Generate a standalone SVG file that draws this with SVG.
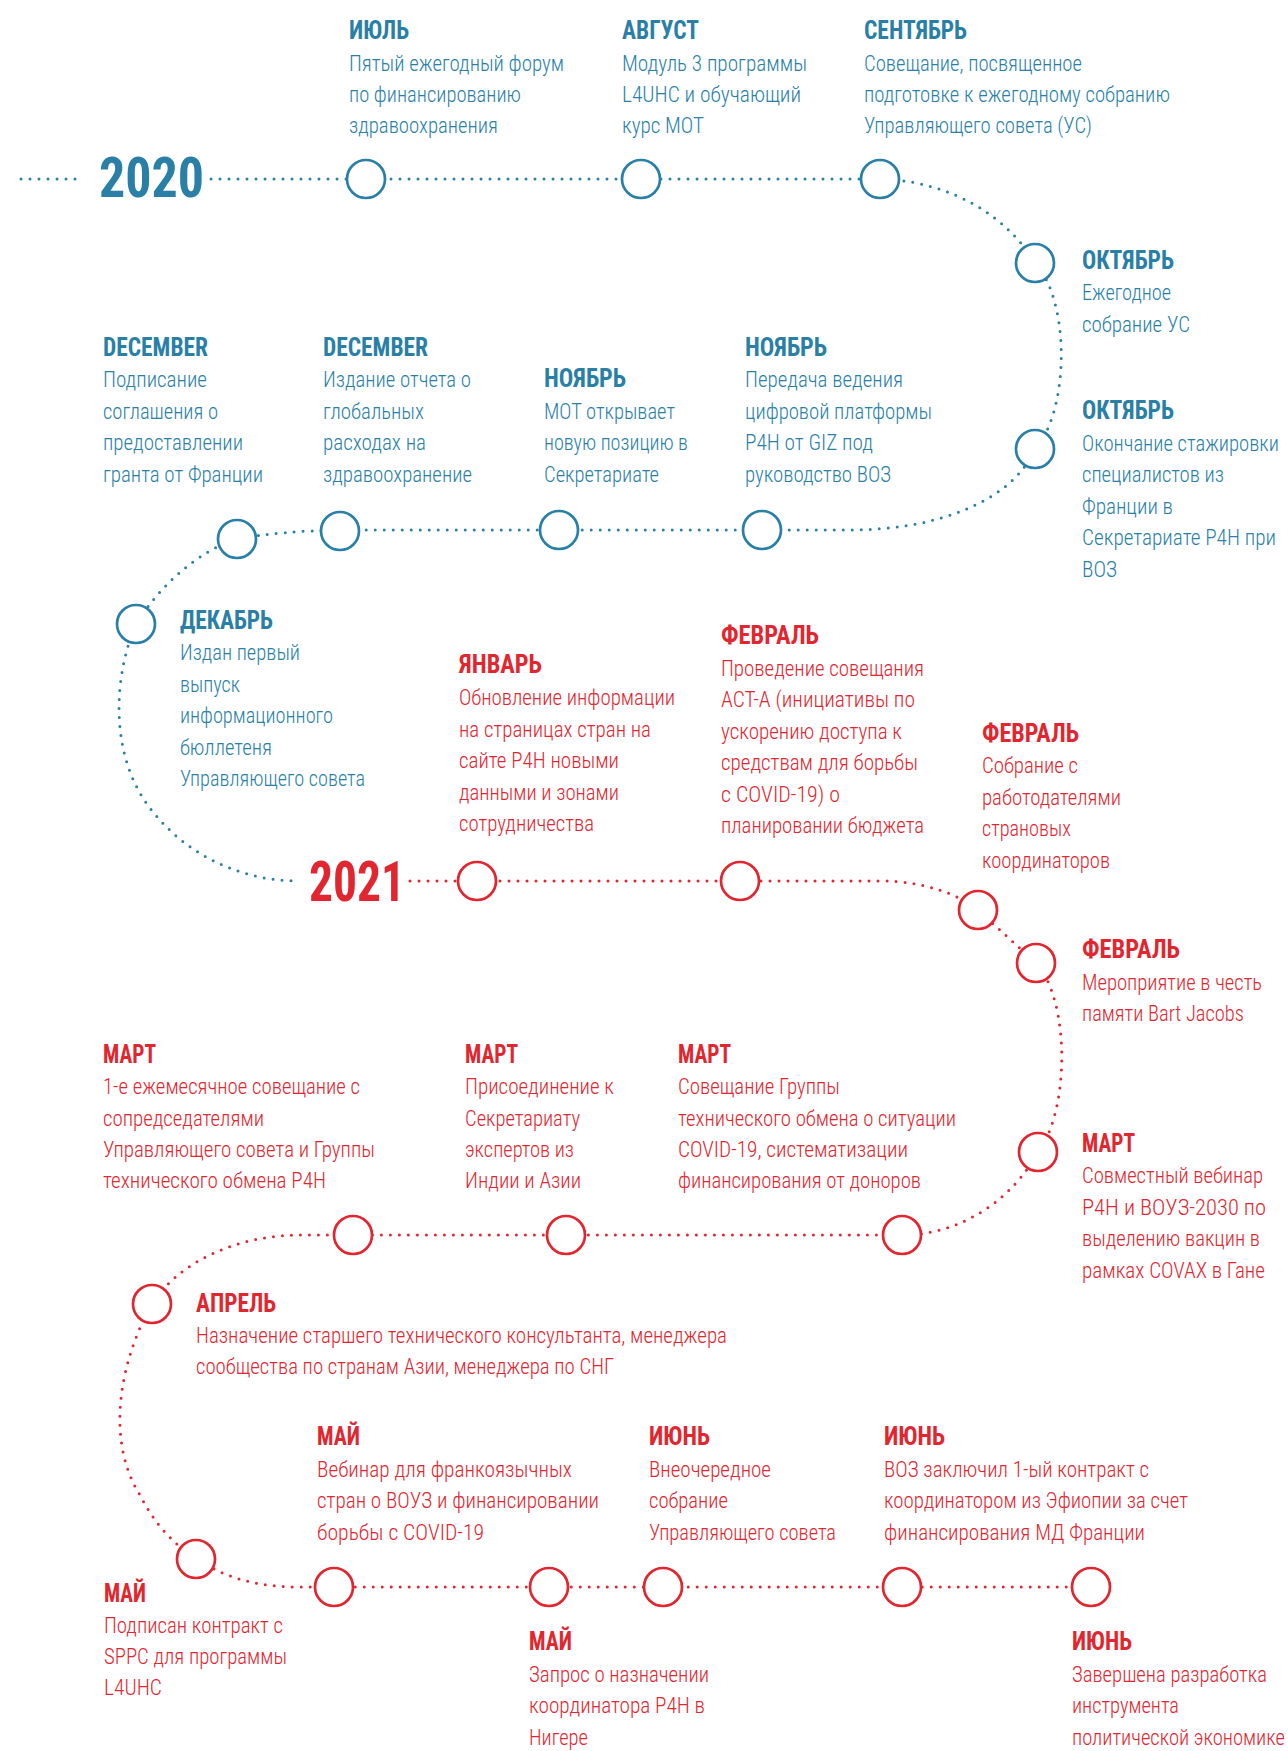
<svg xmlns="http://www.w3.org/2000/svg" width="1288" height="1751" viewBox="0 0 1288 1751">
<style>
.b{fill:#2a7fa6}
.r{fill:#e1262f}
.h{font-family:'Roboto Condensed','Liberation Sans Narrow',Roboto,'Liberation Sans',sans-serif;font-weight:700;font-size:26px}
.t{font-family:'Roboto Condensed','Liberation Sans Narrow',Roboto,'Liberation Sans',sans-serif;font-weight:300;font-size:22px}
.yr{font-family:'Roboto Condensed','Liberation Sans Narrow',Roboto,'Liberation Sans',sans-serif;font-weight:700;font-size:55px}
.lb{fill:none;stroke:#2a7fa6;stroke-width:3;stroke-linecap:round;stroke-dasharray:0 9}
.lr{fill:none;stroke:#e1262f;stroke-width:3;stroke-linecap:round;stroke-dasharray:0 9}
.cb{fill:#fff;stroke:#2a7fa6;stroke-width:2.7}
.cr{fill:#fff;stroke:#e1262f;stroke-width:2.7}
</style>
<rect width="1288" height="1751" fill="#fff"/>
<g id="connectors">
<path class="lb" d="M21,179 H84"/>
<path class="lb" d="M211,179 H880 C935,180 1000,205 1035,263 C1070,300 1070,410 1035,449 C1010,505 930,530 850,530 H340 Q280,531 237,539 C200,550 160,585 136,624 C112,680 110,760 153,812 C190,858 245,881 298,881"/>
<path class="lr" d="M410,881 H880 C925,881 960,895 978,910 L1036,963 C1070,1000 1070,1110 1038,1152 C1015,1195 965,1235 902,1235 H300 C240,1235 180,1260 152,1304 C120,1360 105,1440 140,1495 C155,1525 175,1545 196,1559 C230,1580 260,1587 300,1587 H1091"/>
</g>
<g id="year-2020"><text class="yr b" x="99" y="197" textLength="105" lengthAdjust="spacingAndGlyphs">2020</text></g>
<g id="year-2021"><text class="yr r" x="309" y="901" textLength="96" lengthAdjust="spacingAndGlyphs">2021</text></g>

<g id="n-jul">
<circle class="cb" cx="366" cy="179" r="19"/>
<text class="h b" x="349" y="39" textLength="60" lengthAdjust="spacingAndGlyphs">ИЮЛЬ</text>
<text class="t b" x="349" y="71" textLength="215" lengthAdjust="spacingAndGlyphs">Пятый ежегодный форум</text>
<text class="t b" x="349" y="102" textLength="172" lengthAdjust="spacingAndGlyphs">по финансированию</text>
<text class="t b" x="349" y="133" textLength="149" lengthAdjust="spacingAndGlyphs">здравоохранения</text>
</g>
<g id="n-aug">
<circle class="cb" cx="641" cy="179" r="19"/>
<text class="h b" x="622" y="39" textLength="77" lengthAdjust="spacingAndGlyphs">АВГУСТ</text>
<text class="t b" x="622" y="71" textLength="185" lengthAdjust="spacingAndGlyphs">Модуль 3 программы</text>
<text class="t b" x="622" y="102" textLength="179" lengthAdjust="spacingAndGlyphs">L4UHC и обучающий</text>
<text class="t b" x="622" y="133" textLength="82" lengthAdjust="spacingAndGlyphs">курс МОТ</text>
</g>
<g id="n-sep">
<circle class="cb" cx="880" cy="179" r="19"/>
<text class="h b" x="864" y="39" textLength="103" lengthAdjust="spacingAndGlyphs">СЕНТЯБРЬ</text>
<text class="t b" x="864" y="71" textLength="218" lengthAdjust="spacingAndGlyphs">Совещание, посвященное</text>
<text class="t b" x="864" y="102" textLength="306" lengthAdjust="spacingAndGlyphs">подготовке к ежегодному собранию</text>
<text class="t b" x="864" y="133" textLength="228" lengthAdjust="spacingAndGlyphs">Управляющего совета (УС)</text>
</g>
<g id="n-oct1">
<circle class="cb" cx="1035" cy="263" r="19"/>
<g transform="translate(1082,0) scale(0.8,1)">
<text class="h b" x="0" y="269" textLength="115" lengthAdjust="spacingAndGlyphs">ОКТЯБРЬ</text>
<text class="t b" x="0" y="300" textLength="111.25" lengthAdjust="spacingAndGlyphs">Ежегодное</text>
<text class="t b" x="0" y="332" textLength="135" lengthAdjust="spacingAndGlyphs">собрание УС</text>
</g>
</g>
<g id="n-oct2">
<circle class="cb" cx="1035" cy="449" r="19"/>
<g transform="translate(1082,0) scale(0.8,1)">
<text class="h b" x="0" y="419" textLength="115" lengthAdjust="spacingAndGlyphs">ОКТЯБРЬ</text>
<text class="t b" x="0" y="451" textLength="246.25" lengthAdjust="spacingAndGlyphs">Окончание стажировки</text>
<text class="t b" x="0" y="482" textLength="177.5" lengthAdjust="spacingAndGlyphs">специалистов из</text>
<text class="t b" x="0" y="514" textLength="113.75" lengthAdjust="spacingAndGlyphs">Франции в</text>
<text class="t b" x="0" y="545" textLength="242.5" lengthAdjust="spacingAndGlyphs">Секретариате P4H при</text>
<text class="t b" x="0" y="577" textLength="43.75" lengthAdjust="spacingAndGlyphs">ВОЗ</text>
</g>
</g>
<g id="n-nov2">
<circle class="cb" cx="762" cy="530" r="19"/>
<text class="h b" x="745" y="356" textLength="82" lengthAdjust="spacingAndGlyphs">НОЯБРЬ</text>
<text class="t b" x="745" y="387" textLength="158" lengthAdjust="spacingAndGlyphs">Передача ведения</text>
<text class="t b" x="745" y="419" textLength="187" lengthAdjust="spacingAndGlyphs">цифровой платформы</text>
<text class="t b" x="745" y="450" textLength="128" lengthAdjust="spacingAndGlyphs">P4H от GIZ под</text>
<text class="t b" x="745" y="482" textLength="146" lengthAdjust="spacingAndGlyphs">руководство ВОЗ</text>
</g>
<g id="n-nov1">
<circle class="cb" cx="559" cy="530" r="19"/>
<text class="h b" x="544" y="387" textLength="82" lengthAdjust="spacingAndGlyphs">НОЯБРЬ</text>
<text class="t b" x="544" y="419" textLength="131" lengthAdjust="spacingAndGlyphs">МОТ открывает</text>
<text class="t b" x="544" y="450" textLength="144" lengthAdjust="spacingAndGlyphs">новую позицию в</text>
<text class="t b" x="544" y="482" textLength="115" lengthAdjust="spacingAndGlyphs">Секретариате</text>
</g>
<g id="n-dec2">
<circle class="cb" cx="340" cy="531" r="19"/>
<text class="h b" x="323" y="356" textLength="105" lengthAdjust="spacingAndGlyphs">DECEMBER</text>
<text class="t b" x="323" y="387" textLength="148" lengthAdjust="spacingAndGlyphs">Издание отчета о</text>
<text class="t b" x="323" y="419" textLength="101" lengthAdjust="spacingAndGlyphs">глобальных</text>
<text class="t b" x="323" y="450" textLength="103" lengthAdjust="spacingAndGlyphs">расходах на</text>
<text class="t b" x="323" y="482" textLength="149" lengthAdjust="spacingAndGlyphs">здравоохранение</text>
</g>
<g id="n-dec1">
<circle class="cb" cx="237" cy="539" r="19"/>
<text class="h b" x="103" y="356" textLength="105" lengthAdjust="spacingAndGlyphs">DECEMBER</text>
<text class="t b" x="103" y="387" textLength="104" lengthAdjust="spacingAndGlyphs">Подписание</text>
<text class="t b" x="103" y="419" textLength="115" lengthAdjust="spacingAndGlyphs">соглашения о</text>
<text class="t b" x="103" y="450" textLength="140" lengthAdjust="spacingAndGlyphs">предоставлении</text>
<text class="t b" x="103" y="482" textLength="160" lengthAdjust="spacingAndGlyphs">гранта от Франции</text>
</g>
<g id="n-dec3">
<circle class="cb" cx="136" cy="624" r="19"/>
<text class="h b" x="180" y="629" textLength="93" lengthAdjust="spacingAndGlyphs">ДЕКАБРЬ</text>
<text class="t b" x="180" y="660" textLength="120" lengthAdjust="spacingAndGlyphs">Издан первый</text>
<text class="t b" x="180" y="692" textLength="60" lengthAdjust="spacingAndGlyphs">выпуск</text>
<text class="t b" x="180" y="723" textLength="153" lengthAdjust="spacingAndGlyphs">информационного</text>
<text class="t b" x="180" y="755" textLength="92" lengthAdjust="spacingAndGlyphs">бюллетеня</text>
<text class="t b" x="180" y="786" textLength="185" lengthAdjust="spacingAndGlyphs">Управляющего совета</text>
</g>

<g id="n-jan">
<circle class="cr" cx="477" cy="881" r="19"/>
<text class="h r" x="459" y="673" textLength="83" lengthAdjust="spacingAndGlyphs">ЯНВАРЬ</text>
<text class="t r" x="459" y="705" textLength="216" lengthAdjust="spacingAndGlyphs">Обновление информации</text>
<text class="t r" x="459" y="737" textLength="192" lengthAdjust="spacingAndGlyphs">на страницах стран на</text>
<text class="t r" x="459" y="768" textLength="160" lengthAdjust="spacingAndGlyphs">сайте P4H новыми</text>
<text class="t r" x="459" y="800" textLength="160" lengthAdjust="spacingAndGlyphs">данными и зонами</text>
<text class="t r" x="459" y="831" textLength="135" lengthAdjust="spacingAndGlyphs">сотрудничества</text>
</g>
<g id="n-feb1">
<circle class="cr" cx="740" cy="881" r="19"/>
<text class="h r" x="721" y="644" textLength="98" lengthAdjust="spacingAndGlyphs">ФЕВРАЛЬ</text>
<text class="t r" x="721" y="676" textLength="203" lengthAdjust="spacingAndGlyphs">Проведение совещания</text>
<text class="t r" x="721" y="707" textLength="194" lengthAdjust="spacingAndGlyphs">ACT-A (инициативы по</text>
<text class="t r" x="721" y="739" textLength="181" lengthAdjust="spacingAndGlyphs">ускорению доступа к</text>
<text class="t r" x="721" y="770" textLength="197" lengthAdjust="spacingAndGlyphs">средствам для борьбы</text>
<text class="t r" x="721" y="802" textLength="119" lengthAdjust="spacingAndGlyphs">с COVID-19) о</text>
<text class="t r" x="721" y="833" textLength="203" lengthAdjust="spacingAndGlyphs">планировании бюджета</text>
</g>
<g id="n-feb2">
<circle class="cr" cx="978" cy="910" r="19"/>
<text class="h r" x="982" y="742" textLength="97" lengthAdjust="spacingAndGlyphs">ФЕВРАЛЬ</text>
<text class="t r" x="982" y="773" textLength="96" lengthAdjust="spacingAndGlyphs">Собрание с</text>
<text class="t r" x="982" y="805" textLength="139" lengthAdjust="spacingAndGlyphs">работодателями</text>
<text class="t r" x="982" y="836" textLength="89" lengthAdjust="spacingAndGlyphs">страновых</text>
<text class="t r" x="982" y="868" textLength="128" lengthAdjust="spacingAndGlyphs">координаторов</text>
</g>
<g id="n-feb3">
<circle class="cr" cx="1036" cy="963" r="19"/>
<g transform="translate(1082,0) scale(0.8,1)">
<text class="h r" x="0" y="958" textLength="122.5" lengthAdjust="spacingAndGlyphs">ФЕВРАЛЬ</text>
<text class="t r" x="0" y="990" textLength="225" lengthAdjust="spacingAndGlyphs">Мероприятие в честь</text>
<text class="t r" x="0" y="1021" textLength="202.5" lengthAdjust="spacingAndGlyphs">памяти Bart Jacobs</text>
</g>
</g>
<g id="n-mar4">
<circle class="cr" cx="1038" cy="1152" r="19"/>
<g transform="translate(1082,0) scale(0.8,1)">
<text class="h r" x="0" y="1152" textLength="66.25" lengthAdjust="spacingAndGlyphs">МАРТ</text>
<text class="t r" x="0" y="1183" textLength="226.25" lengthAdjust="spacingAndGlyphs">Совместный вебинар</text>
<text class="t r" x="0" y="1215" textLength="230" lengthAdjust="spacingAndGlyphs">P4H и ВОУЗ-2030 по</text>
<text class="t r" x="0" y="1246" textLength="222.5" lengthAdjust="spacingAndGlyphs">выделению вакцин в</text>
<text class="t r" x="0" y="1278" textLength="228.75" lengthAdjust="spacingAndGlyphs">рамках COVAX в Гане</text>
</g>
</g>
<g id="n-mar3">
<circle class="cr" cx="902" cy="1235" r="19"/>
<text class="h r" x="678" y="1063" textLength="53" lengthAdjust="spacingAndGlyphs">МАРТ</text>
<text class="t r" x="678" y="1094" textLength="162" lengthAdjust="spacingAndGlyphs">Совещание Группы</text>
<text class="t r" x="678" y="1126" textLength="278" lengthAdjust="spacingAndGlyphs">технического обмена о ситуации</text>
<text class="t r" x="678" y="1157" textLength="230" lengthAdjust="spacingAndGlyphs">COVID-19, систематизации</text>
<text class="t r" x="678" y="1188" textLength="243" lengthAdjust="spacingAndGlyphs">финансирования от доноров</text>
</g>
<g id="n-mar2">
<circle class="cr" cx="566" cy="1235" r="19"/>
<text class="h r" x="465" y="1063" textLength="53" lengthAdjust="spacingAndGlyphs">МАРТ</text>
<text class="t r" x="465" y="1094" textLength="149" lengthAdjust="spacingAndGlyphs">Присоединение к</text>
<text class="t r" x="465" y="1126" textLength="115" lengthAdjust="spacingAndGlyphs">Секретариату</text>
<text class="t r" x="465" y="1157" textLength="109" lengthAdjust="spacingAndGlyphs">экспертов из</text>
<text class="t r" x="465" y="1188" textLength="116" lengthAdjust="spacingAndGlyphs">Индии и Азии</text>
</g>
<g id="n-mar1">
<circle class="cr" cx="353" cy="1235" r="19"/>
<text class="h r" x="103" y="1063" textLength="53" lengthAdjust="spacingAndGlyphs">МАРТ</text>
<text class="t r" x="103" y="1094" textLength="257" lengthAdjust="spacingAndGlyphs">1-е ежемесячное совещание с</text>
<text class="t r" x="103" y="1126" textLength="161" lengthAdjust="spacingAndGlyphs">сопредседателями</text>
<text class="t r" x="103" y="1157" textLength="272" lengthAdjust="spacingAndGlyphs">Управляющего совета и Группы</text>
<text class="t r" x="103" y="1188" textLength="223" lengthAdjust="spacingAndGlyphs">технического обмена P4H</text>
</g>
<g id="n-apr">
<circle class="cr" cx="152" cy="1304" r="19"/>
<text class="h r" x="196" y="1312" textLength="80" lengthAdjust="spacingAndGlyphs">АПРЕЛЬ</text>
<text class="t r" x="196" y="1343" textLength="531" lengthAdjust="spacingAndGlyphs">Назначение старшего технического консультанта, менеджера</text>
<text class="t r" x="196" y="1374" textLength="418" lengthAdjust="spacingAndGlyphs">сообщества по странам Азии, менеджера по СНГ</text>
</g>
<g id="n-may1">
<circle class="cr" cx="196" cy="1559" r="19"/>
<text class="h r" x="104" y="1602" textLength="42" lengthAdjust="spacingAndGlyphs">МАЙ</text>
<text class="t r" x="104" y="1633" textLength="179" lengthAdjust="spacingAndGlyphs">Подписан контракт с</text>
<text class="t r" x="104" y="1664" textLength="183" lengthAdjust="spacingAndGlyphs">SPPC для программы</text>
<text class="t r" x="104" y="1695" textLength="58" lengthAdjust="spacingAndGlyphs">L4UHC</text>
</g>
<g id="n-may2">
<circle class="cr" cx="334" cy="1587" r="19"/>
<text class="h r" x="317" y="1445" textLength="43" lengthAdjust="spacingAndGlyphs">МАЙ</text>
<text class="t r" x="317" y="1477" textLength="255" lengthAdjust="spacingAndGlyphs">Вебинар для франкоязычных</text>
<text class="t r" x="317" y="1508" textLength="282" lengthAdjust="spacingAndGlyphs">стран о ВОУЗ и финансировании</text>
<text class="t r" x="317" y="1540" textLength="167" lengthAdjust="spacingAndGlyphs">борьбы с COVID-19</text>
</g>
<g id="n-may3">
<circle class="cr" cx="549" cy="1587" r="19"/>
<text class="h r" x="529" y="1650" textLength="43" lengthAdjust="spacingAndGlyphs">МАЙ</text>
<text class="t r" x="529" y="1682" textLength="180" lengthAdjust="spacingAndGlyphs">Запрос о назначении</text>
<text class="t r" x="529" y="1713" textLength="176" lengthAdjust="spacingAndGlyphs">координатора P4H в</text>
<text class="t r" x="529" y="1745" textLength="59" lengthAdjust="spacingAndGlyphs">Нигере</text>
</g>
<g id="n-jun1">
<circle class="cr" cx="663" cy="1587" r="19"/>
<text class="h r" x="649" y="1445" textLength="61" lengthAdjust="spacingAndGlyphs">ИЮНЬ</text>
<text class="t r" x="649" y="1477" textLength="122" lengthAdjust="spacingAndGlyphs">Внеочередное</text>
<text class="t r" x="649" y="1508" textLength="79" lengthAdjust="spacingAndGlyphs">собрание</text>
<text class="t r" x="649" y="1540" textLength="187" lengthAdjust="spacingAndGlyphs">Управляющего совета</text>
</g>
<g id="n-jun2">
<circle class="cr" cx="902" cy="1587" r="19"/>
<text class="h r" x="884" y="1445" textLength="61" lengthAdjust="spacingAndGlyphs">ИЮНЬ</text>
<text class="t r" x="884" y="1477" textLength="265" lengthAdjust="spacingAndGlyphs">ВОЗ заключил 1-ый контракт с</text>
<text class="t r" x="884" y="1508" textLength="304" lengthAdjust="spacingAndGlyphs">координатором из Эфиопии за счет</text>
<text class="t r" x="884" y="1540" textLength="261" lengthAdjust="spacingAndGlyphs">финансирования МД Франции</text>
</g>
<g id="n-jun3">
<circle class="cr" cx="1091" cy="1587" r="19"/>
<g transform="translate(1072,0) scale(0.8,1)">
<text class="h r" x="0" y="1650" textLength="75" lengthAdjust="spacingAndGlyphs">ИЮНЬ</text>
<text class="t r" x="0" y="1682" textLength="243.75" lengthAdjust="spacingAndGlyphs">Завершена разработка</text>
<text class="t r" x="0" y="1713" textLength="133.75" lengthAdjust="spacingAndGlyphs">инструмента</text>
<text class="t r" x="0" y="1745" textLength="266.25" lengthAdjust="spacingAndGlyphs">политической экономике</text>
</g>
</g>
</svg>
